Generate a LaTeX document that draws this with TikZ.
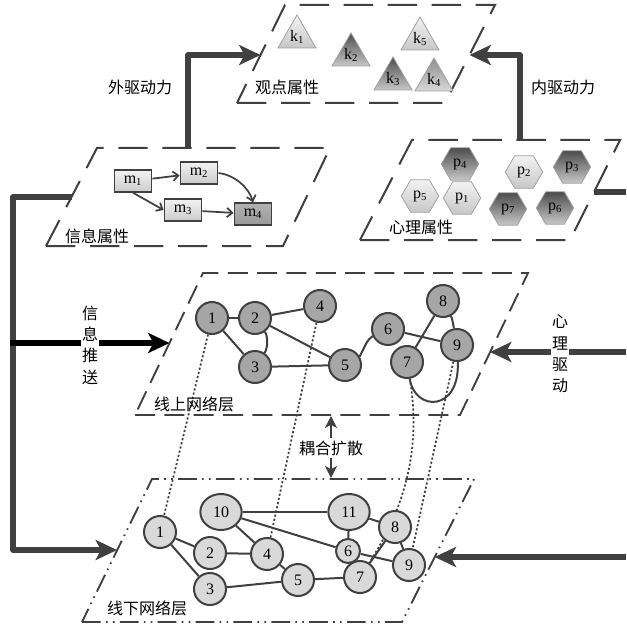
\documentclass[tikz,border=0pt]{standalone}
\usepackage{fontspec}
\setmainfont{Liberation Serif}
\newfontfamily\cjk{Noto Sans CJK SC}
\usetikzlibrary{arrows.meta,shapes.geometric}
\pgfdeclarelayer{back}
\pgfdeclarelayer{mid}
\pgfsetlayers{back,mid,main}
\definecolor{dk}{HTML}{404040}
\definecolor{onfill}{HTML}{A6A6A6}
\definecolor{offfill}{HTML}{D9D9D9}
\definecolor{rim}{HTML}{A0A0A0}
\begin{document}
\begin{tikzpicture}[x=0.75pt,y=-0.75pt,
  attrlayer/.style={draw=dk,line width=1.5pt,dash pattern=on 22pt off 11pt},
  onlayer/.style={draw=dk,line width=1.4pt,dash pattern=on 15pt off 7pt},
  offlayer/.style={draw=dk,line width=1.4pt,dash pattern=on 14pt off 4pt on 1.2pt off 4pt on 1.2pt off 4pt},
  onnode/.style={circle,draw=dk,line width=1.5pt,fill=onfill,minimum size=24pt,inner sep=0pt,font=\fontsize{12}{12}\selectfont},
  offnode/.style={onnode,fill=offfill},
  bignode/.style={ellipse,draw=dk,line width=1.5pt,fill=offfill,minimum width=31pt,minimum height=27pt,inner sep=0pt,font=\fontsize{12}{12}\selectfont},
  edge/.style={draw=dk,line width=1.5pt},
  couple/.style={draw=dk,line width=1.3pt,dash pattern=on 1.6pt off 1.6pt},
  mbox/.style={rectangle,draw=dk,line width=1.1pt,minimum width=28pt,minimum height=16.5pt,inner sep=0pt,top color=white!95!black,bottom color=white!80!black,font=\fontsize{12}{12}\selectfont},
  mdark/.style={mbox,top color=white!70!black,bottom color=white!60!black},
  marrow/.style={draw=dk,line width=1.3pt,-{Straight Barb[length=4pt,width=7pt]}},
  tri/.style={regular polygon,regular polygon sides=3,draw=rim,line width=0.6pt,minimum size=33pt,inner sep=0pt,font=\fontsize{12}{12}\selectfont},
  hex/.style={regular polygon,regular polygon sides=6,draw=rim,line width=0.6pt,minimum size=28pt,inner sep=0pt,font=\fontsize{12}{12}\selectfont},
  light/.style={top color=white!95!black,bottom color=white!78!black},
  dark/.style={top color=white!30!black,bottom color=white!78!black},
  mid/.style={top color=white!55!black,bottom color=white!85!black},
  bigarrow/.style={draw=dk,line width=3.8pt,line join=round,-{Stealth[length=16pt,width=15pt,inset=4pt]}},
  cjklabel/.style={font=\cjk\fontsize{12}{16}\selectfont,inner sep=1pt},
  vlabel/.style={cjklabel,align=center,fill=white}
]
\useasboundingbox (0,0) rectangle (626,627);

% ---------- layers ----------
\begin{pgfonlayer}{back}
\draw[attrlayer] (237,103) -- (445,103) -- (495,5) -- (285,5) -- cycle;
\draw[attrlayer] (46,246) -- (283,246) -- (330,148) -- (97,148) -- cycle;
\draw[attrlayer] (360,240) -- (570,240) -- (620,140) -- (412,140) -- cycle;
\draw[onlayer] (135,415) -- (460,415) -- (528,273) -- (203,273) -- cycle;
\draw[offlayer] (82,622) -- (402,622) -- (474,479) -- (152,479) -- cycle;
\end{pgfonlayer}

% ---------- viewpoint attributes ----------
\node[tri,light] (k1) at (297,37) {k\textsubscript{1}};
\node[tri,dark]  (k2) at (351,55) {k\textsubscript{2}};
\node[tri,dark]  (k3) at (393,79) {k\textsubscript{3}};
\node[tri,mid]   (k4) at (434,80) {k\textsubscript{4}};
\node[tri,light] (k5) at (420,39) {k\textsubscript{5}};
\node[cjklabel] (lk) at (287,87) {观点属性};

% ---------- information attributes ----------
\node[mbox] (m1) at (133,181) {m\textsubscript{1}};
\node[mbox] (m2) at (199,173) {m\textsubscript{2}};
\node[mbox] (m3) at (183,210) {m\textsubscript{3}};
\node[mdark] (m4) at (253,214) {m\textsubscript{4}};
\node[cjklabel] (lm) at (97,236) {信息属性};

% ---------- psychological attributes ----------
\node[hex,dark]  (p4) at (460,164) {p\textsubscript{4}};
\node[hex,light] (p2) at (524,172) {p\textsubscript{2}};
\node[hex,dark]  (p3) at (572,167) {p\textsubscript{3}};
\node[hex,light] (p5) at (420,196) {p\textsubscript{5}};
\node[hex,light] (p1) at (462,198) {p\textsubscript{1}};
\node[hex,dark]  (p7) at (508,209) {p\textsubscript{7}};
\node[hex,dark]  (p6) at (555,208) {p\textsubscript{6}};
\node[cjklabel] (lp) at (421,227) {心理属性};

% ---------- online layer ----------
\node[onnode] (a1) at (212,318) {1};
\node[onnode] (a2) at (255,318) {2};
\node[onnode] (a3) at (255,367) {3};
\node[onnode] (a4) at (320,306) {4};
\node[onnode] (a5) at (345,365) {5};
\node[onnode] (a6) at (388,329) {6};
\node[onnode] (a7) at (407,362) {7};
\node[onnode] (a8) at (443,301) {8};
\node[onnode] (a9) at (457,345) {9};
\node[cjklabel] (lon) at (194,404) {线上网络层};

% ---------- offline layer ----------
\node[offnode] (b1) at (160,532) {1};
\node[offnode] (b2) at (210,553) {2};
\node[offnode] (b3) at (210,589) {3};
\node[offnode] (b4) at (267,554) {4};
\node[offnode] (b5) at (298,580) {5};
\node[offnode,minimum size=18pt] (b6) at (348,551) {6};
\node[offnode] (b7) at (360,577) {7};
\node[offnode] (b8) at (395,527) {8};
\node[offnode] (b9) at (409,565) {9};
\node[bignode] (b10) at (221,512) {10};
\node[bignode] (b11) at (349,512) {11};
\node[cjklabel] (loff) at (147,608) {线下网络层};

% ---------- other labels ----------
\node[cjklabel] (lout) at (140,87) {外驱动力};
\node[cjklabel] (lin) at (563,87) {内驱动力};
\node[vlabel] (lpush) at (90,345) {信\\息\\推\\送};
\node[vlabel] (ldrive) at (560,354) {心\\理\\驱\\动};
\node[cjklabel,inner sep=2pt] (lcpl) at (331,448) {耦合扩散};

% ---------- coordinates for connectors ----------
\coordinate (oA) at (188,148);
\coordinate (oB) at (188,55);
\coordinate (oC) at (260.5,55);
\coordinate (iA) at (520,140);
\coordinate (iB) at (520,55);
\coordinate (iC) at (469.5,55);
\coordinate (lA) at (71.5,197);
\coordinate (lB) at (13,197);
\coordinate (lC) at (13,550);
\coordinate (lD) at (117,550);
\coordinate (sA) at (10,343);
\coordinate (sB) at (169.5,343);
\coordinate (rA) at (626,352);
\coordinate (rB) at (490,352);
\coordinate (qA) at (626,557);
\coordinate (qB) at (434.7,557);
\coordinate (tA) at (594,192);
\coordinate (tB) at (626,192);
\coordinate (cU) at (331,416);
\coordinate (cD) at (331,478);

\begin{pgfonlayer}{mid}
% big arrows
\draw[bigarrow] (oA) -- (oB) -- (oC);
\draw[bigarrow] (iA) -- (iB) -- (iC);
\draw[bigarrow] (lA) -- (lB) -- (lC) -- (lD);
\draw[bigarrow,draw=black] (sA) -- (sB);
\draw[bigarrow] (rA) -- (rB);
\draw[bigarrow] (qA) -- (qB);
\draw[draw=dk,line width=3.8pt] (tA) -- (tB);
\draw[draw=dk,line width=1.5pt,-{Stealth[length=9pt,width=9pt,inset=2.5pt]}] (lcpl.north) -- (cU);
\draw[draw=dk,line width=1.5pt,-{Stealth[length=9pt,width=9pt,inset=2.5pt]}] (lcpl.south) -- (cD);

% information arrows
\draw[marrow] (m1) -- (m2);
\draw[marrow] (m1.south) -- (m3.west);
\draw[marrow] (m2.east) .. controls (235,175) and (249,188) .. (m4.north);
\draw[marrow] (m3) -- (m4);

% online edges
\draw[edge] (a1) -- (a2);
\draw[edge] (a1) -- (a3);
\draw[edge] (a2) .. controls (268,336) and (268,348) .. (a3);
\draw[edge] (a2) -- (a4);
\draw[edge] (a2) -- (a5);
\draw[edge] (a3) -- (a5);
\draw[edge] (a5.30) .. controls (366,344) and (367,340) .. (a6.-155);
\draw[edge] (a6) -- (a9);
\draw[edge] (a7) -- (a8);
\draw[edge] (a8) .. controls (452,318) .. (a9);
\draw[edge] (a7) .. controls (415,412) and (460,412) .. (a9);

% offline edges
\draw[edge] (b1) -- (b2);
\draw[edge] (b1) -- (b3);
\draw[edge] (b2) -- (b4);
\draw[edge] (b3) -- (b5);
\draw[edge] (b4) -- (b5);
\draw[edge] (b10) -- (b4);
\draw[edge] (b10) -- (b11);
\draw[edge] (b10) -- (b6);
\draw[edge] (b11) -- (b6);
\draw[edge] (b11) -- (b8);
\draw[edge] (b5) -- (b7);
\draw[edge] (b6) -- (b9);
\draw[edge] (b7) -- (b8);
\draw[edge] (b8) -- (b9);

% coupling lines
\draw[couple] (a1) -- (b1);
\draw[couple] (a4) -- (b4);
\draw[couple] (a7) .. controls (420,440) and (410,500) .. (b7);
\draw[couple] (a9) -- (b9);
\end{pgfonlayer}
\end{tikzpicture}
\end{document}
